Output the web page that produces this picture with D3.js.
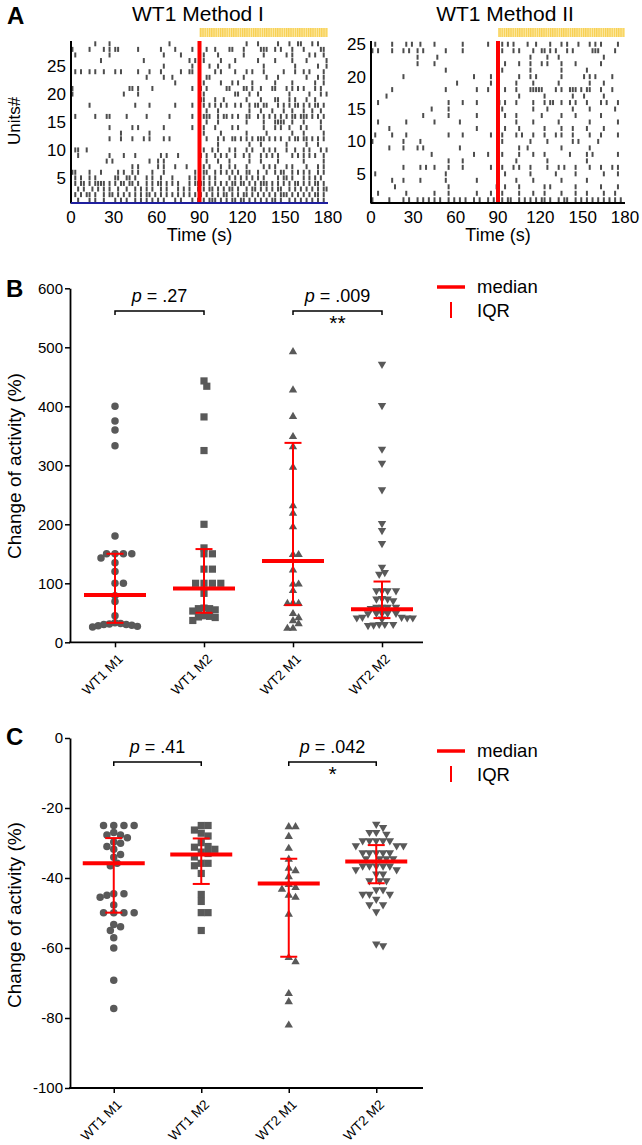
<!DOCTYPE html>
<html><head><meta charset="utf-8">
<script src="https://cdn.jsdelivr.net/npm/d3@7"></script>
<style>body{margin:0;background:#fff}</style>
</head><body><svg id="c" width="642" height="1145" xmlns="http://www.w3.org/2000/svg"></svg>
<script>
// ---------------- DATA ----------------
// Raster rows (top unit first). Each char = 2 s bin, '#' = spike. 0-90 s then 90-180 s.
const rasterMethod1 = [
"..... ...#. ...#. ..... ..... ..... ....# ..... ..... ..... ..... ..... .#... #.... ..#.. .#..# #...# .#...",
"#.... .#... .#.#. ##... ...#. ..... .#... .#... ..#.. ..#.. #.... ##... #.... .###. .#.#. ..#.. .#... ..##.",
".#... ..... ...#. ..... ..... ..... ..#.. ...#. ..... .#... .#... ..... #.... ..#.. ..... #.#.. ...#. #..#.",
"..... ..... #.... ..... ..... #.... ..... ..... .#.#. .#... ..#.. ..#.. ..... #.... .#... ..#.. ..#.. ....#",
"..... ..... ..... ..... ..... ..... ..#.. ..... ..#.. ...#. .#... #.... ..... ..#.. ..... ...#. ..... .#..#",
".#.#. .#.#. .#... #.#.. ...#. ..#.. .#... ...#. .##.. ..... #.#.. ..#.. .#.#. ..#.. ....# ...#. .#.#. ...#.",
"..... ..... ..... ..... ..... .#... ..#.. #.... ..... ..##. ..... ..... #.... ...#. ..#.. ..... ..#.. .#.#.",
"..... ..... ..... ..... ..... ..... ..... .#... ..... .#... ..#.. .#.#. ...#. ..... .#... ..#.. ..... #..#.",
"#.... ..... ..... ..... ##.#. ...#. ..... ..... ..#.. #.#.. ....# #.... ##.#. .#... ##... #.#.# .#... #.#..",
"#.... ..... ..... ...#. ...#. ..... ..... ..... ..... .#... ..... ..##. ..#.. #.... ..... .#... ...#. ..#.#",
"..... ..... ..... ..... ..... ..... ..... ..... ..... ##... #..#. ..... .#... .#... .##.. .#.#. ..#.. #....",
"..... .#... ..... ..... ..#.. ..#.. ..... .#... ..#.. .#.#. #.#.# ..#.# ..#.# #.##. ..#.# .#.## .#.#. ##.#.",
"..... ..... ..... ..... ..... ..... ..... ..... ..... ..#.. .#... ..... ..#.. .#... #...# ..#.. .#..# ..#..",
".#... ...#. ..##. ....# ..... .#... ....# ..... ..#.. .###. .#.## .#.#. .##.. #.#.# .#.#. #.##. ###.# .#.#.",
"..... ..... ..... ..... ..... ..... ..... ..... ..... ..#.. .#... ..... .#... ..#.. .#### ..#.. .#... ..#..",
"..... ..... ...#. ..... .#.#. ..... ..#.. ..... ..#.. .#... #.... .#.#. ..... ..#.. .#.#. .#... #.#.. ..#..",
"..... ..... ..... ..#.. ..... ..#.. ..... ..... ..... .#... ..#.. ..... .#... ...#. ..... ..#.. .#... ...#.",
"..... ..... ...#. ..#.. .#... #.#.. ..#.# ..... ..... ..#.. .#.#. .##.# .#.#. ###.# .#.#. .#.## .##.# .#.#.",
"..... ..... ..... ..... ..... ..... ..... ..... ..... ..... .#... ..... ..#.. .#... ..... #.... ..#.. .#...",
".##.. #.... ..... ..... ..... ..... ..... ..... ..... .#..# .#... #.#.. .#.#. ..#.# .#... #..#. .#.#. ..#.#",
"..#.. ..... ...#. ...#. ..#.. ..... .#.#. ..#.. ..... #.#.. #.#.# ..#.. #.#.. .#.#. #.#.. ..#.# .#.#. #..#.",
"..... ..... ..#.# ..... ..... ..#.. #.#.. ..... ..... ..#.. .#... #.... ..#.. .#... ..#.. ..... .#... ...#.",
"..... ..... ..... ..... .#.#. ..... #.#.. .#... #.... .#.#. ..#.. #.#.. .#... ..#.# .#... #.#.. ..#.. .#.#.",
"##... .#... #.... .#.#. .#.#. ...#. ..#.. ..... ...#. .##.. #.#.# .#.#. .##.. #..#. .#.## ..#.# .#.#. .#.#.",
".#.#. .#.#. ..... ##..# #.#.. .#.#. .#... #.... .#.#. .#.#. #.... #.#.# .#.#. #.#.. ..#.# #.#.. .#.#. #.#..",
".#.## .#.## ##.#. #.##. ##.#. .#.#. ##.#. #.#.. .#.## ##.#. #.#.# .##.# #.#.# .###. #.#.# .#.## .#.#. ##.#.",
"..#.# ..#.# .#.#. .#..# ..#.# .#.#. .#.#. ..#.# .#..# .#.## .#.#. ##.#. .#.## .#.#. #.##. .#.#. #.#.# .#.##",
".#.#. ##.#. .#.## .#.#. #.#.# .##.# .#.#. #.#.# .#.#. #.#.# .#.## .#.#. ##.#. #.#.# .#.## #.#.# .#.#. ##.#.",
"..#.. .#.#. .#... #.#.# ..#.# .#.#. #.#.. .#.#. ..#.# .#.## #.#.# .##.# #.#.# .#.#. ##.#. .#.#. #.#.# .#.#."
];
const rasterMethod2 = [
".#... ..#.. ..#.# ..#.. ..#.. ..... ..#.. ..... .#... .#.#. #.... #..#. ...#. ..#.# ...#. ..#.# .#... ..#..",
"#.#.. ..#.. .#.#. .#.#. ..... .#... ..#.. ..... ..... .#... #.#.. ..#.. ##.#. #...# .#... ...## #.... .#...",
"..... ..... ..... .#... ...#. ..... ..... ..... ..... ..... ..... .#... ..#.. .#... ..... ..... ..#.. .....",
"..... ..... ..... .#... ..#.. ..... ..... ..... ..... ..#.. ..#.. .#... #.#.. ..#.. ..#.. ..... .#... .....",
"..... ..... ..... ..... ..... .#... ..... ..... ..... .#... ..... .#... ..... ..#.. ..... .#... ..... .....",
"..... ..... .#... ..... ..... ..... ..... .#... ..#.. ..... ..#.. .#.#. ..... ..#.. ..... #.#.# ..... #....",
"..... ..... ..... ..... ..... ..... #.... ..... ..#.. ..... .#... ..#.. ..... .#... ..... ..#.. ..#.. .....",
"..... ..#.. ..... ..... ..... .#... ..... ..#.. .#... ..#.. .#... .#### #.... #.#.. ###.# .##.. .#... #....",
"..... #.... ..... ..... ..... ..... ..... ..... ..... ..... ..#.. ..... .#... ..... .#... #.... ..#.. .....",
"..#.. ..... ..... ..... ..... ..#.. ..#.. ..#.. ..... #.#.. .#... ..#.. .#.## ..#.. #.#.. .#... .#.#. ..#..",
"..... ..... ..... ..... .#... ..#.. ..... ..... ..... .#... ..... ..#.. ..#.. ..... .#... ..#.. ..... .#...",
"..... ..... ..... ...#. ..... ..#.. ..... ..#.. ..... ..#.. .#... ..... #.... ..#.. ..#.. ..... .#... .....",
"..#.. ..... ..#.. ..... ..#.. ..... .#... ..... ..... ..... .#... ..#.. ..... .#... ..... ..#.. ..... ..#..",
"..... .#... ..... ..... ..... ..... ..... ..#.. ..... ..#.. ..#.. ..... .#... ..#.. .#... .#... ..#.. .....",
".#... ..#.. ..#.. ..... ..... ..#.. ..#.. ..... ..#.. .#... .#.#. ..#.. .#... #.#.. .#... ..#.. .#... ..#..",
"#.... ..... .#... ..#.. ..... ..... ..... ..... ..... .#... ..... .#... ..#.. ..... .#.#. ..... #.... .....",
"..... .#... .#... .#.#. ..... ..... .#... ..... ..... ..... ..#.. #.... ..... ..#.. ..... ..#.. ..... .....",
"..... ..... ..... ..... .#... ..... ..... .#... .#... .#... ..#.. ..#.. .#... ..... #.... .#.#. ..... ..#..",
"..... ..... ..... ..... ..... ..#.. ..#.. ..... ..... ..... .#... ..... ..#.. ..... ..... .#... ..... .....",
"..... ..... .#... ..#.# ..#.. ..#.. ..#.. ..... ..#.. .#... #.#.. .#... ..#.. .#.#. ..#.. ..#.. .#... #.#..",
".#... ..... ..... ..... ..... .#... ..... ..... ..... ..#.. ..... .#... ..... #.... ..#.. ..... ..#.. ..#..",
"..... ..#.. .#... ..#.. ..... .#... ..... ..#.. ..... ..... .#... ..#.. ..... ..#.. ..... .#... ..... .....",
"..... ...#. ..... ..... ..... ..#.. ..... ..... ....# ..#.. ..#.. ..... .#.#. ..... ..#.. ..... .#... ..#..",
"..#.. ..... ..#.. ..... ..#.. ..#.. ..... ..#.. ..#.. .#... ..#.. ..#.. .#... ..#.. ..#.. .#... ..#.. .#...",
"#.... .#... .#.#. .#.#. #.#.# ..#.# .#.#. .#.#. .#.#. .#.## ..#.# .#.#. ##.#. .#.## ..#.# .#.#. #.#.# .#.#."
];
const rasterTimeTicks = [0, 30, 60, 90, 120, 150, 180];
const rasterUnitTicks = [5, 10, 15, 20, 25];
const stimOnset = 90;

const categories = ["WT1 M1", "WT1 M2", "WT2 M1", "WT2 M2"];

// Panel B: increase of activity (%)
const incWT1M1 = [400,375,360,333,180,150,150,150,150,143,135,120,100,100,79,69,45,33,32,31,30,30,29,28,27,26];
const incWT1M2 = [443,434,382,325,200,160,150,150,124,124,100,100,100,100,83,58,57,57,55,53,45,44,43,42,37];
const incWT2M1 = [494,429,384,350,333,298,233,220,197,150,150,124,100,100,89,68,67,67,50,43,38,33,25,25];
const incWT2M2 = [470,400,326,302,257,200,188,166,126,117,114,86,86,86,86,73,72,72,69,58,58,58,58,56,48,48,48,48,47,41,41,40,40,40,38,29,29,29,28,27];
const incMedian = [80, 91, 138, 56];
const incQ1 = [33, 50, 63, 41];
const incQ3 = [150, 158, 338, 103];
const incTicks = [0, 100, 200, 300, 400, 500, 600];
const incPvals = [".27", ".009"];
const incStars = ["", "**"];

// Panel C: decrease of activity (%)
const decWT1M1 = [-25,-25,-25,-25,-27,-27.7,-27.7,-28.5,-29.7,-30.1,-31,-31.8,-33.3,-34.1,-35.8,-36.5,-44.5,-44.5,-44.9,-45.5,-47.7,-49.9,-49.9,-49.9,-49.9,-53.3,-53.9,-55,-57.1,-60,-69.2,-77.3];
const decWT1M2 = [-25,-25,-26.3,-27.2,-28,-29.9,-31,-31.2,-31.8,-32.6,-33,-34,-35.8,-35.8,-36.5,-38.7,-44.7,-46.7,-49.9,-49.9,-55];
const decWT2M1 = [-25.1,-25.1,-27.9,-31.3,-34.4,-37,-37.7,-39.4,-41.6,-42.5,-43,-44.7,-45.3,-50.1,-62.5,-63.7,-72.8,-75.1,-81.8];
const decWT2M2 = [-24.9,-25.8,-27.2,-27.2,-27.7,-29.6,-29.6,-29.6,-29.6,-29.6,-31,-31,-31,-33,-33,-33,-33,-33,-34.7,-34.7,-34.7,-34.7,-36.8,-36.8,-36.8,-36.8,-36.8,-37.9,-37.9,-39.1,-39.1,-41,-41,-41,-43.6,-43.6,-44.9,-44.9,-44.9,-46.3,-47.9,-47.9,-49.9,-59.1,-59.6];
const decMedian = [-35.8, -33.3, -41.6, -35.3];
const decQ1 = [-49.9, -41.7, -62.5, -41.5];
const decQ3 = [-28.6, -28.7, -34.5, -30.6];
const decTicks = [0, -20, -40, -60, -80, -100];
const decPvals = [".41", ".042"];
const decStars = ["", "*"];

// ---------------- DRAWING ----------------
const FONT = "'Liberation Sans', Arial, Helvetica, sans-serif";
const GRAY = "#595959", RED = "#ff0000", TICK = "#4d4d4d";
const svg = d3.select("#c").style("font-family", FONT);

const defs = svg.append("defs");
const pat = defs.append("pattern").attr("id", "stripes").attr("patternUnits", "userSpaceOnUse")
  .attr("width", 2.2).attr("height", 10);
pat.append("rect").attr("width", 2.2).attr("height", 10).attr("fill", "#fde9a6");
pat.append("rect").attr("width", 1.2).attr("height", 10).attr("fill", "#f7cf4f");

function txt(x, y, s, size, opts = {}) {
  const t = svg.append("text").attr("x", x).attr("y", y).attr("font-size", size)
    .attr("fill", "#000").attr("text-anchor", opts.anchor || "start").text(s);
  if (opts.bold) t.attr("font-weight", "bold");
  if (opts.rotate) t.attr("transform", `rotate(${opts.rotate},${x},${y})`);
  return t;
}

function raster(rows, xr, title, titleX, bottomColor) {
  const n = rows.length;
  const xs = d3.scaleLinear().domain([0, 180]).range(xr);
  const ys = d3.scaleLinear().domain([0.5, n + 0.5]).range([203, 41]);
  const g = svg.append("g");
  g.append("rect").attr("x", xs(stimOnset)).attr("y", 28).attr("width", xs(180) - xs(stimOnset)).attr("height", 9)
    .attr("fill", "url(#stripes)");
  const spikes = [];
  rows.forEach((r, i) => {
    const unit = n - i;
    r.replace(/ /g, "").split("").forEach((c, b) => { if (c === "#") spikes.push({ t: b * 2 + 1, unit }); });
  });
  g.selectAll("rect.sp").data(spikes).join("rect").attr("class", "sp")
    .attr("x", d => xs(d.t) - 1).attr("width", 2)
    .attr("y", d => ys(d.unit) - 2.5).attr("height", 5).attr("fill", TICK);
  g.append("line").attr("x1", xs(stimOnset)).attr("x2", xs(stimOnset)).attr("y1", 41).attr("y2", 203)
    .attr("stroke", RED).attr("stroke-width", 4);
  g.append("line").attr("x1", xr[0]).attr("x2", xr[0]).attr("y1", 41).attr("y2", 203.5).attr("stroke", "#000").attr("stroke-width", 2);
  g.append("line").attr("x1", xr[0]).attr("x2", xr[1]).attr("y1", 203).attr("y2", 203).attr("stroke", bottomColor).attr("stroke-width", 2);
  rasterTimeTicks.forEach(t => txt(xs(t), 223, t, 17, { anchor: "middle" }));
  rasterUnitTicks.filter(u => u <= n).forEach(u => txt(xr[0] - 5, ys(u) + 6, u, 17, { anchor: "end" }));
  txt((xr[0] + xr[1]) / 2, 241, "Time (s)", 18, { anchor: "middle" });
  txt(titleX, 21, title, 21, { anchor: "middle" });
}

raster(rasterMethod1, [71, 328], "WT1 Method I", 198, "#1f1f9e");
raster(rasterMethod2, [371, 625], "WT1 Method II", 505, "#000");
txt(7, 24, "A", 24, { bold: true });
txt(20, 121, "Units#", 17, { anchor: "middle", rotate: -90 });

function symbolPath(kind) {
  if (kind === "circle") return d3.symbol().type(d3.symbolCircle).size(44)();
  if (kind === "square") return "M-3.6,-3.6H3.6V3.6H-3.6Z";
  if (kind === "up") return "M0,-3.9L4.2,3.3L-4.2,3.3Z";
  return "M0,3.9L4.2,-3.3L-4.2,-3.3Z";
}

function swarm(vals, ys, cx, d, step) {
  const pts = vals.map(v => ({ v, y: ys(v) })).sort((a, b) => a.y - b.y);
  const placed = [];
  pts.forEach(p => {
    for (let k = 0; k < 80; k++) {
      const off = k === 0 ? 0 : (k % 2 ? 1 : -1) * Math.ceil(k / 2) * step;
      const x = cx + off;
      if (placed.every(q => Math.hypot(q.x - x, q.y - p.y) >= d)) { p.x = x; placed.push(p); break; }
    }
  });
  return placed;
}

function dotPanel(o) {
  const ys = d3.scaleLinear().domain(o.domain).range(o.yRange);
  const xs = d3.scalePoint().domain(categories).range(o.xRange).padding(0.5);
  const axisY = o.yRange[0];
  const g = svg.append("g");
  const ya = g.append("g").attr("transform", `translate(70,0)`)
    .call(d3.axisLeft(ys).tickValues(o.ticks).tickFormat(d => String(d)).tickSize(5).tickPadding(2).tickSizeOuter(0));
  ya.select(".domain").attr("stroke-width", 1.8);
  ya.selectAll(".tick line").attr("stroke-width", 1.5);
  ya.selectAll("text").attr("font-size", 15).attr("font-family", FONT).attr("fill", "#000");
  const xa = g.append("g").attr("transform", `translate(0,${axisY})`)
    .call(d3.axisBottom(xs).tickSize(5).tickSizeOuter(0).tickPadding(0));
  xa.select(".domain").remove();
  xa.append("line").attr("x1", 69).attr("x2", 423).attr("stroke", "#000").attr("stroke-width", 1.8);
  xa.selectAll(".tick line").attr("stroke-width", 1.5);
  xa.selectAll("text").attr("font-size", 13.5).attr("font-family", FONT).attr("fill", "#000")
    .attr("text-anchor", "end").attr("dy", "0.35em")
    .attr("transform", "translate(5,14) rotate(-45)").attr("y", 0);
  o.series.forEach((vals, i) => {
    const pts = swarm(vals, ys, xs(categories[i]), o.d, o.step);
    g.selectAll(null).data(pts).join("path").attr("d", symbolPath(o.symbols[i]))
      .attr("transform", p => `translate(${p.x},${p.y})`).attr("fill", GRAY);
  });
  categories.forEach((c, i) => {
    const x = xs(c);
    g.append("line").attr("x1", x).attr("x2", x).attr("y1", ys(o.q1[i])).attr("y2", ys(o.q3[i])).attr("stroke", RED).attr("stroke-width", 2);
    [o.q1[i], o.q3[i]].forEach(v => g.append("line").attr("x1", x - 8.5).attr("x2", x + 8.5).attr("y1", ys(v)).attr("y2", ys(v)).attr("stroke", RED).attr("stroke-width", 2));
    g.append("line").attr("x1", x - 31).attr("x2", x + 31).attr("y1", ys(o.med[i])).attr("y2", ys(o.med[i])).attr("stroke", RED).attr("stroke-width", 4);
  });
  [[0, 1], [2, 3]].forEach(([a, b], j) => {
    const x1 = xs(categories[a]), x2 = xs(categories[b]);
    g.append("path").attr("d", `M${x1},${o.brY + 4}V${o.brY}H${x2}V${o.brY + 4}`).attr("fill", "none").attr("stroke", "#000").attr("stroke-width", 1.5);
    const t = txt((x1 + x2) / 2, o.brY - 9, "", 18, { anchor: "middle" });
    t.append("tspan").attr("font-style", "italic").text("p");
    t.append("tspan").text(" = " + o.pvals[j]);
    if (o.stars[j]) txt((x1 + x2) / 2, o.brY + 19, o.stars[j], 21, { anchor: "middle" });
  });
  g.append("line").attr("x1", 437).attr("x2", 465).attr("y1", o.legY).attr("y2", o.legY).attr("stroke", RED).attr("stroke-width", 3.5);
  txt(477, o.legY + 6, "median", 18.5);
  g.append("line").attr("x1", 451).attr("x2", 451).attr("y1", o.legY + 15).attr("y2", o.legY + 31).attr("stroke", RED).attr("stroke-width", 2);
  txt(477, o.legY + 30, "IQR", 18.5);
  txt(6, o.letterY, o.letter, 24, { bold: true });
  txt(21, o.labelCY, "Change of activity (%)", 19, { anchor: "middle", rotate: -90 });
}

dotPanel({
  domain: [0, 600], yRange: [642.3, 288.3], xRange: [70.5, 426.5], ticks: incTicks,
  series: [incWT1M1, incWT1M2, incWT2M1, incWT2M2], symbols: ["circle", "square", "up", "down"],
  med: incMedian, q1: incQ1, q3: incQ3, pvals: incPvals, stars: incStars,
  brY: 311, legY: 287, letter: "B", letterY: 297, labelCY: 466, d: 5.6, step: 2.8
});
dotPanel({
  domain: [-100, 0], yRange: [1088, 738], xRange: [70, 420], ticks: decTicks,
  series: [decWT1M1, decWT1M2, decWT2M1, decWT2M2], symbols: ["circle", "square", "up", "down"],
  med: decMedian, q1: decQ1, q3: decQ3, pvals: decPvals, stars: decStars,
  brY: 762, legY: 751, letter: "C", letterY: 745, labelCY: 915, d: 6.8, step: 3.4
});
</script></body></html>
